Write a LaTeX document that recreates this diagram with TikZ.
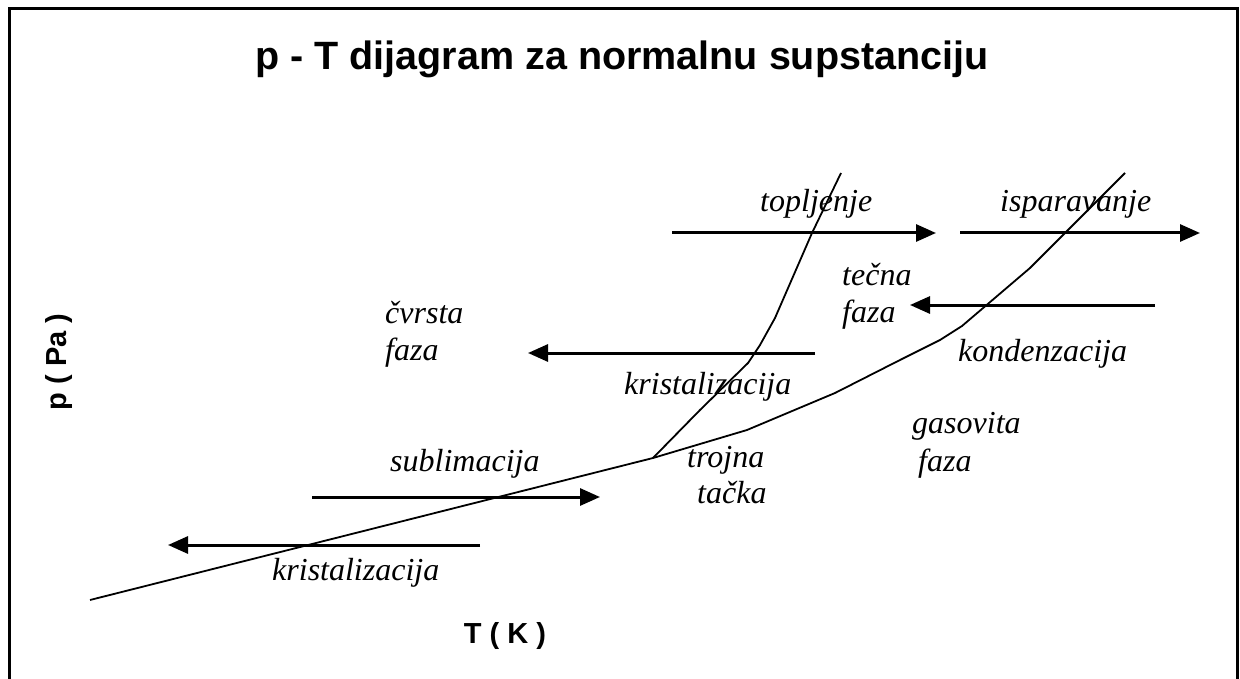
\documentclass[tikz,border=0pt]{standalone}
\usepackage{fontspec}
\setmainfont{Liberation Serif}
\setsansfont{Liberation Sans}
\usetikzlibrary{arrows.meta}

\tikzset{
  phaselabel/.style={anchor=base west, inner sep=0pt, font=\fontsize{32}{34}\selectfont\itshape},
  axislabel/.style={inner sep=0pt, font=\fontsize{29}{31}\selectfont\sffamily\bfseries},
  transition/.style={line width=3pt, -{Triangle[length=20pt,width=17pt]}},
  boundary/.style={line width=1.8pt, line join=round}
}

\begin{document}
\begin{tikzpicture}[x=1pt, y=-1pt]

\useasboundingbox (0,0) rectangle (1240,679);
\fill[white] (0,0) rectangle (1240,679);

% Frame
\draw[line width=3pt] (9,679) -- (9,9) -- (1237,9) -- (1237,679);

% Title and axes
\node[inner sep=0pt, anchor=base, font=\fontsize{39.5}{42}\selectfont\sffamily\bfseries] (title) at (622,70)
    {p - T dijagram za normalnu supstanciju};
\node[axislabel, rotate=90] (pAxis) at (59,362) {p ( Pa )};
\node[axislabel] (TAxis) at (505,636) {T ( K )};

% Phase boundaries meeting in the triple point
\coordinate (triple) at (653,458);
\draw[boundary] (90,600) -- (triple);
\draw[boundary] (triple) -- (700,410) -- (748,363) -- (760,345) -- (775,318)
    -- (812,233) -- (841,173);
\draw[boundary] (triple) -- (747,430) -- (835,393) -- (900,360) -- (940,340)
    -- (962,326) -- (1030,268) -- (1065,233) -- (1125,173);

% Phase regions
\node[phaselabel] (solidA) at (385,323) {čvrsta};
\node[phaselabel] (solidB) at (385,360) {faza};
\node[phaselabel] (liquidA) at (842,285) {tečna};
\node[phaselabel] (liquidB) at (842,322) {faza};
\node[phaselabel] (gasA) at (912,433) {gasovita};
\node[phaselabel] (gasB) at (918,471) {faza};
\node[phaselabel] (tripleA) at (687,467) {trojna};
\node[phaselabel] (tripleB) at (697,503) {tačka};

% Transitions
\coordinate (meltS) at (672,233);   \coordinate (meltE) at (936,233);
\coordinate (vapS) at (960,233);    \coordinate (vapE) at (1200,233);
\coordinate (condS) at (1155,305);  \coordinate (condE) at (910,305);
\coordinate (frzS) at (815,353);    \coordinate (frzE) at (528,353);
\coordinate (subS) at (312,497);    \coordinate (subE) at (600,497);
\coordinate (depS) at (480,545);    \coordinate (depE) at (168,545);

\draw[transition] (meltS) -- (meltE);
\draw[transition] (vapS) -- (vapE);
\draw[transition] (condS) -- (condE);
\draw[transition] (frzS) -- (frzE);
\draw[transition] (subS) -- (subE);
\draw[transition] (depS) -- (depE);

\node[phaselabel] (melt) at (760,212) {topljenje};
\node[phaselabel] (vap) at (1000,212) {isparavanje};
\node[phaselabel] (cond) at (958,361) {kondenzacija};
\node[phaselabel] (frz) at (624,394) {kristalizacija};
\node[phaselabel] (sub) at (390,471) {sublimacija};
\node[phaselabel] (dep) at (272,580) {kristalizacija};

\end{tikzpicture}
\end{document}
